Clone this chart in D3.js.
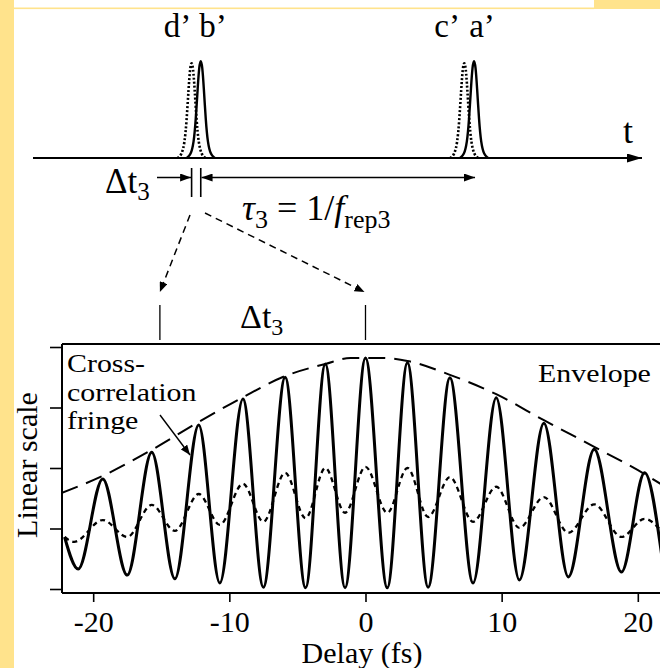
<!DOCTYPE html>
<html><head><meta charset="utf-8">
<script src="https://cdn.jsdelivr.net/npm/d3@7"></script>
<style>
body{margin:0;background:#fff}
svg{display:block}
text{font-family:"Liberation Serif","Times New Roman",serif;fill:#000}
</style>
</head><body>
<svg id="c" width="660" height="668" font-family="Liberation Serif, serif"></svg>
<script>
// ---------- data ----------
const delayTicks = [-20, -10, 0, 10, 20];
const levelTicks = [0, 1, 2, 3, 4];

// solid cross-correlation fringe (delay fs, linear level)
const solidDelay = [-22.1,-21.1,-19.3,-17.5,-15.7,-14.0,-12.25,-10.7,-9.0,-7.5,-5.9,-4.4,-2.95,-1.5,0,1.6,3.08,4.6,6.2,7.9,9.6,11.3,13.1,14.9,16.8,18.8,20.5,21.8];
const solidLevel = [0.86,0.33,1.82,0.23,2.26,0.17,2.71,0.10,3.14,0.03,3.50,0.02,3.72,0.02,3.82,0.02,3.74,0.03,3.49,0.10,3.16,0.15,2.74,0.20,2.31,0.28,1.92,0.48];

// short-dashed fringe
const dashDelay = [-22.1,-21.4,-19.3,-17.5,-15.7,-14.0,-12.25,-10.7,-9.0,-7.5,-5.9,-4.4,-2.95,-1.5,0,1.6,3.08,4.6,6.2,7.9,9.6,11.3,13.1,14.9,16.8,18.8,20.5,21.8];
const dashLevel = [0.86,0.78,1.14,0.86,1.39,0.96,1.57,1.06,1.74,1.11,1.92,1.17,2.00,1.26,2.02,1.26,2.00,1.19,1.85,1.11,1.69,1.01,1.52,0.93,1.40,0.86,1.16,0.94];

// envelope
const envDelay = [-22.3,-19.3,-15.7,-12.25,-9.0,-5.9,-2.95,-1.1,1.1,3.08,6.2,9.6,13.1,16.8,20.5,21.8];
const envLevel = [1.59,1.87,2.30,2.76,3.17,3.52,3.72,3.82,3.82,3.77,3.54,3.22,2.79,2.35,1.90,1.72];

// delay markers (Δt3)
const markerDelay = [-15.1, 0];

// top schematic: pulse train
const pulseNames = ["d\u2019", "b\u2019", "c\u2019", "a\u2019"];
const pulseTime  = [26.0, 27.5, 70.7, 72.3];
const pulseAmp   = [0.98, 1.0, 0.98, 1.0];
const pulseDotted = [true, false, true, false];
const labelShift = [-2.3, 2.0, -2.8, 1.3];   // label centre offset from its pulse (time units)
// pulse profile (offset in time units, relative height)
const profOffset = [-2.3,-1.64,-1.15,-0.82,-0.49,-0.25,0,0.25,0.49,0.82,1.15,1.64,2.3];
const profHeight = [0,0.03,0.15,0.38,0.72,0.93,1,0.93,0.72,0.38,0.15,0.03,0];

const YEL = "#ffe38c";
const SERIF = "Liberation Serif, Times New Roman, serif";

// ---------- drawing ----------
const W = 660, H = 668;
const svg = d3.select("#c");
svg.append("rect").attr("width", W).attr("height", H).attr("fill", "#fff");
svg.append("rect").attr("x", 0).attr("y", 0).attr("width", 14).attr("height", H).attr("fill", YEL);
svg.append("rect").attr("x", 14).attr("y", 7.5).attr("width", 580).attr("height", 1.6).attr("fill", YEL);
svg.append("rect").attr("x", 594).attr("y", 0).attr("width", 66).attr("height", 9).attr("fill", YEL);

const defs = svg.append("defs");
function marker(id, w, h) {
  defs.append("marker").attr("id", id)
    .attr("viewBox", `0 0 ${w} ${h}`).attr("refX", w).attr("refY", h / 2)
    .attr("markerWidth", w).attr("markerHeight", h)
    .attr("markerUnits", "userSpaceOnUse").attr("orient", "auto-start-reverse")
    .append("path").attr("d", `M0,0L${w},${h/2}L0,${h}Z`).attr("fill", "#000");
}
marker("axisHead", 15, 9);
marker("head", 11, 8);
marker("dhead", 10, 8);

function txt(sel, size) {
  return sel.append("text").attr("font-family", SERIF).attr("font-size", size).attr("fill", "#000");
}

// ---- top schematic ----
const tX = d3.scaleLinear().domain([0, 100]).range([33, 643]);
const pY = d3.scaleLinear().domain([0, 1]).range([158, 59]);
const axY = 158;

svg.append("line").attr("x1", tX(0)).attr("x2", tX(100) - 1).attr("y1", axY).attr("y2", axY)
  .attr("stroke", "#000").attr("stroke-width", 2).attr("marker-end", "url(#axisHead)");
txt(svg, 36).attr("x", 628).attr("y", 143).attr("text-anchor", "middle").text("t");

const pulseLine = d3.line().curve(d3.curveBasis);
pulseTime.forEach((t, i) => {
  const pts = profOffset.map((o, k) => [tX(t + o), pY(profHeight[k] * pulseAmp[i])]);
  svg.append("path").attr("d", pulseLine(pts)).attr("fill", "none").attr("stroke", "#000")
    .attr("stroke-width", pulseDotted[i] ? 2.6 : 2.4)
    .attr("stroke-dasharray", pulseDotted[i] ? "2,2" : null);
  txt(svg, 33).attr("x", tX(t + labelShift[i])).attr("y", 37).attr("text-anchor", "middle")
    .text(pulseNames[i]);
});

// Δt3 bars + arrows
const barY0 = 168, barY1 = 197, arY = 177.5;
[pulseTime[0], pulseTime[1]].forEach(t => {
  svg.append("line").attr("x1", tX(t)).attr("x2", tX(t)).attr("y1", barY0).attr("y2", barY1)
    .attr("stroke", "#000").attr("stroke-width", 1.6);
});
svg.append("line").attr("x1", 157).attr("x2", tX(pulseTime[0]) - 0.5).attr("y1", arY).attr("y2", arY)
  .attr("stroke", "#000").attr("stroke-width", 1.6).attr("marker-end", "url(#head)");
svg.append("line").attr("x1", tX(pulseTime[1]) + 0.8).attr("x2", tX(pulseTime[3]) + 1).attr("y1", arY).attr("y2", arY)
  .attr("stroke", "#000").attr("stroke-width", 1.6)
  .attr("marker-start", "url(#head)").attr("marker-end", "url(#head)");

const dt1 = txt(svg, 35).attr("x", 105).attr("y", 193);
dt1.append("tspan").text("\u0394t");
dt1.append("tspan").attr("font-size", 25).attr("dy", 7).text("3");

const tau = txt(svg, 36).attr("x", 242).attr("y", 220);
tau.append("tspan").attr("font-style", "italic").text("\u03C4");
tau.append("tspan").attr("font-size", 26).attr("dy", 8).text("3");
tau.append("tspan").attr("dy", -8).text(" = 1/");
tau.append("tspan").attr("font-style", "italic").text("f");
tau.append("tspan").attr("font-size", 26).attr("dy", 8).text("rep3");

// ---- lower chart ----
const x = d3.scaleLinear().domain([-22.29, 21.63]).range([62, 660]);
const y = d3.scaleLinear().domain([0, 4]).range([589, 347]);
const fTop = 344, fBot = 593, fL = 62, fR = 660;

// dashed zoom arrows
const dStart = [[190, 215], [205, 213]];
markerDelay.forEach((d, i) => {
  svg.append("line").attr("x1", dStart[i][0]).attr("y1", dStart[i][1])
    .attr("x2", x(d) - (i === 0 ? 0 : 1)).attr("y2", 292)
    .attr("stroke", "#000").attr("stroke-width", 1.5).attr("stroke-dasharray", "7,5")
    .attr("marker-end", "url(#dhead)");
  svg.append("line").attr("x1", x(d)).attr("x2", x(d)).attr("y1", 305).attr("y2", 340)
    .attr("stroke", "#000").attr("stroke-width", 1.3);
});
const dt2 = txt(svg, 34).attr("x", (x(markerDelay[0]) + x(markerDelay[1])) / 2 - 1).attr("y", 328)
  .attr("text-anchor", "middle");
dt2.append("tspan").text("\u0394t");
dt2.append("tspan").attr("font-size", 24).attr("dy", 7).text("3");

svg.append("clipPath").attr("id", "clip").append("rect")
  .attr("x", fL).attr("y", fTop).attr("width", fR - fL).attr("height", fBot - fTop);
const g = svg.append("g").attr("clip-path", "url(#clip)");
const line = d3.line().curve(d3.curveMonotoneX);

g.append("path").attr("d", line(envDelay.map((d, i) => [x(d), y(envLevel[i])])))
  .attr("fill", "none").attr("stroke", "#000").attr("stroke-width", 2)
  .attr("stroke-dasharray", "17,9");
g.append("path").attr("d", line(dashDelay.map((d, i) => [x(d), y(dashLevel[i])])))
  .attr("fill", "none").attr("stroke", "#000").attr("stroke-width", 2.3)
  .attr("stroke-dasharray", "5,4");
g.append("path").attr("d", line(solidDelay.map((d, i) => [x(d), y(solidLevel[i])])))
  .attr("fill", "none").attr("stroke", "#000").attr("stroke-width", 3);

// frame
[[fL, fTop, fL, fBot], [fL, fTop, fR, fTop], [fL, fBot, fR, fBot]].forEach(s => {
  svg.append("line").attr("x1", s[0]).attr("y1", s[1]).attr("x2", s[2]).attr("y2", s[3])
    .attr("stroke", "#000").attr("stroke-width", 2);
});

// axes
const xa = svg.append("g").attr("transform", `translate(0,${fBot})`)
  .call(d3.axisBottom(x).tickValues(delayTicks).tickSize(9).tickPadding(9).tickFormat(d => String(d)));
xa.attr("font-family", SERIF);
xa.select(".domain").remove();
xa.selectAll("line").attr("stroke", "#000").attr("stroke-width", 1.6);
xa.selectAll("text").attr("font-size", 30).attr("font-family", SERIF).attr("fill", "#000");

const ya = svg.append("g").attr("transform", `translate(${fL},0)`)
  .call(d3.axisLeft(y).tickValues(levelTicks).tickSize(12).tickFormat(""));
ya.select(".domain").remove();
ya.selectAll("line").attr("stroke", "#000").attr("stroke-width", 1.6);

// labels
txt(svg, 30).attr("x", (fL + fR) / 2 + 1).attr("y", 663).attr("text-anchor", "middle").text("Delay (fs)");
txt(svg, 30).attr("transform", "translate(37,465) rotate(-90)").attr("text-anchor", "middle").text("Linear scale");

const cc = txt(svg.append("g").attr("transform", "translate(67,0) scale(1.15,1)"), 26);
cc.append("tspan").attr("x", 0).attr("y", 372).text("Cross-");
cc.append("tspan").attr("x", 0).attr("y", 401).text("correlation");
cc.append("tspan").attr("x", 0).attr("y", 429).text("fringe");

txt(svg.append("g").attr("transform", "translate(538,0) scale(1.15,1)"), 26)
  .attr("x", 0).attr("y", 382).text("Envelope");

svg.append("line").attr("x1", 160).attr("y1", 415).attr("x2", 190).attr("y2", 455)
  .attr("stroke", "#000").attr("stroke-width", 1.4).attr("marker-end", "url(#dhead)");
</script>
</body></html>
